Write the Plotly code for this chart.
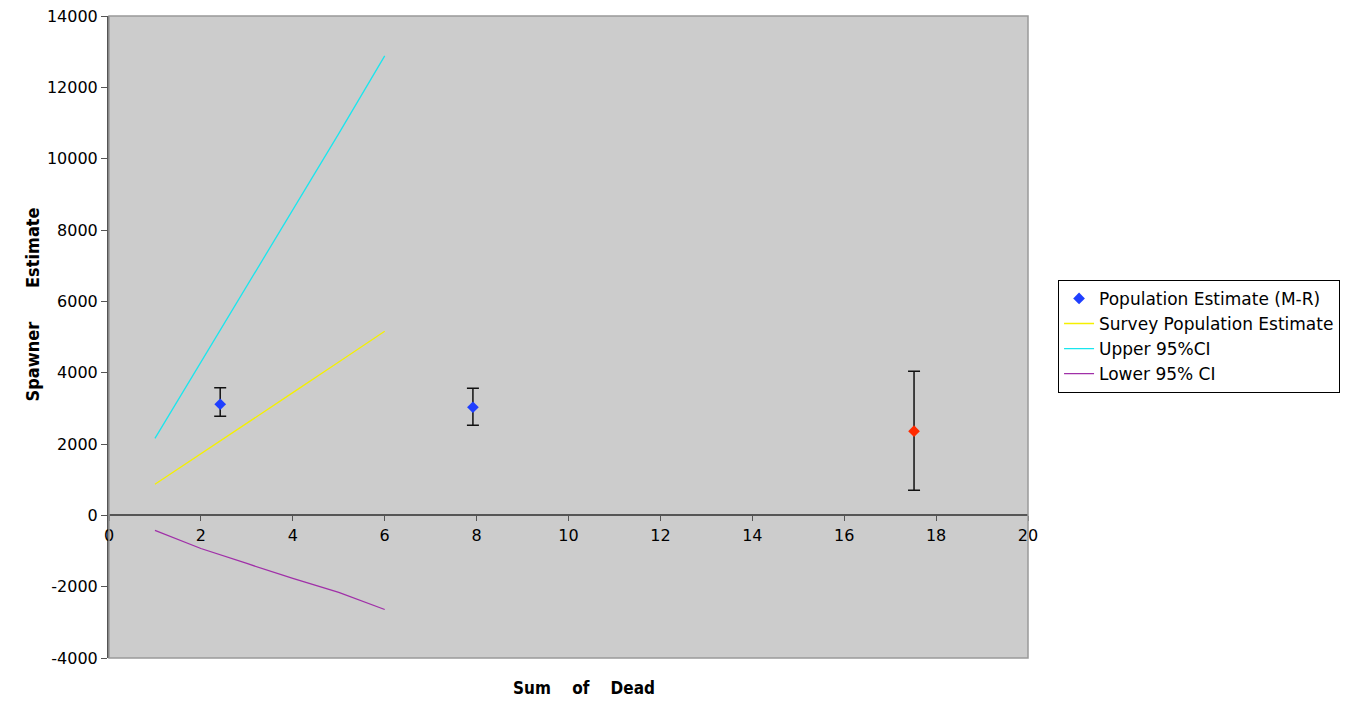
import plotly.graph_objects as go

# Data
mr_x = [2.42, 7.92, 17.52]
mr_y = [3115, 3030, 2360]
mr_err_plus = [465, 530, 1680]
mr_err_minus = [335, 505, 1660]
mr_colors = ["#1F3FFF", "#1F3FFF", "#FF2A00"]

line_x = [1, 2, 3, 4, 5, 6]
survey_y = [870, 1720, 2580, 3440, 4300, 5160]
upper_y = [2160, 4300, 6450, 8550, 10700, 12880]
lower_y = [-420, -930, -1350, -1770, -2160, -2640]

x_ticks = [0, 2, 4, 6, 8, 10, 12, 14, 16, 18, 20]
y_ticks = [-4000, -2000, 0, 2000, 4000, 6000, 8000, 10000, 12000, 14000]

font_main = "DejaVu Sans"

fig = go.Figure()
fig.add_trace(go.Scatter(
    x=mr_x, y=mr_y, mode="markers", name="Population Estimate (M-R)",
    marker=dict(symbol="diamond", size=9, color=mr_colors, line=dict(width=0)),
    error_y=dict(type="data", symmetric=False, array=mr_err_plus, arrayminus=mr_err_minus,
                 color="#111111", thickness=1.5, width=6),
))
fig.add_trace(go.Scatter(x=line_x, y=survey_y, mode="lines", name="Survey Population Estimate",
                         line=dict(color="#F5F000", width=1.3)))
fig.add_trace(go.Scatter(x=line_x, y=upper_y, mode="lines", name="Upper 95%CI",
                         line=dict(color="#19E6EE", width=1.3)))
fig.add_trace(go.Scatter(x=line_x, y=lower_y, mode="lines", name="Lower 95% CI",
                         line=dict(color="#A030A8", width=1.3)))

fig.update_layout(
    width=1348, height=701,
    margin=dict(l=109, r=320, t=16, b=43, autoexpand=False),
    paper_bgcolor="white", plot_bgcolor="#CCCCCC",
    font=dict(family=font_main, size=15, color="black"),
    showlegend=True,
    legend=dict(x=1.0327, y=0.589, xanchor="left", yanchor="top",
                bgcolor="white", bordercolor="black", borderwidth=1,
                font=dict(family=font_main, size=17), tracegroupgap=0,
                itemwidth=30),
    xaxis=dict(range=[0, 20], tickvals=x_ticks, ticktext=[str(v) for v in x_ticks],
               showgrid=False, zeroline=False, showline=True, linecolor="#555555", linewidth=2,
               ticks="outside", ticklen=5, tickcolor="#555555",
               anchor="free", position=4000 / 18000,
               tickfont=dict(size=16, family=font_main)),
    yaxis=dict(range=[-4000, 14000], tickvals=y_ticks, ticktext=[str(v) for v in y_ticks],
               showgrid=False, zeroline=False, showline=True, linecolor="#555555", linewidth=2,
               ticks="outside", ticklen=6, tickcolor="#555555",
               tickfont=dict(size=16, family=font_main)),
    shapes=[dict(type="rect", xref="paper", yref="paper", x0=0, x1=1, y0=0, y1=1,
                 line=dict(color="#999999", width=1.5), fillcolor="rgba(0,0,0,0)", layer="above")],
    annotations=[
        dict(text="<b>Spawner&nbsp;&nbsp;&nbsp;&nbsp;&nbsp;&nbsp;Estimate</b>", xref="paper", yref="paper",
             x=-0.0968, y=0.55, textangle=-90, showarrow=False,
             font=dict(family="DejaVu Sans Condensed", size=18)),
        dict(text="<b>Sum&nbsp;&nbsp;&nbsp;&nbsp;of&nbsp;&nbsp;&nbsp;&nbsp;Dead</b>", xref="paper", yref="paper",
             x=0.5169, y=-0.0467, showarrow=False, yanchor="middle",
             font=dict(family="DejaVu Sans Condensed", size=17)),
    ],
)

fig.write_html("out.html", config={"displayModeBar": False},
               post_script="document.body.style.margin='0px';document.body.style.overflow='hidden';")
